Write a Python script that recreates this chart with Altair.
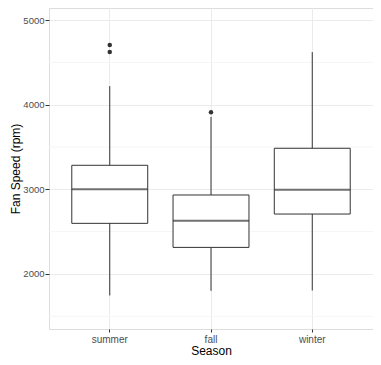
import altair as alt
import pandas as pd

seasons = ["summer", "fall", "winter"]
whisker_lo = [1746, 1801, 1805]
q1 = [2598, 2314, 2708]
median = [3000, 2630, 2996]
q3 = [3284, 2933, 3485]
whisker_hi = [4219, 3856, 4621]

outlier_season = ["summer", "summer", "fall"]
outlier_value = [4704, 4621, 3911]

minor_breaks = [1500, 2500, 3500, 4500]

df = pd.DataFrame({"season": seasons, "lo": whisker_lo, "q1": q1,
                   "med": median, "q3": q3, "hi": whisker_hi})
dout = pd.DataFrame({"season": outlier_season, "value": outlier_value})
dminor = pd.DataFrame({"y": minor_breaks})

FONT = "Liberation Sans"
DARK = "#333333"

xscale = alt.Scale(domain=seasons, paddingInner=0.25, paddingOuter=0.225)
yscale = alt.Scale(domain=[1350, 5142], nice=False, zero=False)

xaxis = alt.Axis(title="Season", labelAngle=0, domain=False, tickSize=3,
                 tickColor="#333333", labelColor="#4D4D4D", labelFontSize=10,
                 titleFontSize=12, titleFontWeight="normal", titleColor="#000000",
                 grid=True, gridColor="#EBEBEB", bandPosition=0.5,
                 labelPadding=2, titlePadding=1)
yaxis = alt.Axis(title="Fan Speed (rpm)", values=[2000, 3000, 4000, 5000],
                 format="d", domain=False, tickSize=4, tickColor="#333333",
                 labelColor="#4D4D4D", labelFontSize=9.5, titleFontSize=12,
                 titleFontWeight="normal", titleColor="#000000", grid=True,
                 gridColor="#EBEBEB", labelPadding=1, titlePadding=0)

minor = alt.Chart(dminor).mark_rule(color="#F5F5F5", strokeWidth=1).encode(
    y=alt.Y("y:Q", scale=yscale, axis=yaxis))

whisk = alt.Chart(df).mark_rule(color=DARK, strokeWidth=1).encode(
    x=alt.X("season:N", scale=xscale, axis=xaxis, sort=seasons),
    y=alt.Y("lo:Q", scale=yscale, axis=yaxis),
    y2="hi:Q")

box = alt.Chart(df).mark_bar(fill="white", stroke=DARK, strokeWidth=1).encode(
    x=alt.X("season:N", sort=seasons),
    y="q1:Q", y2="q3:Q")

med = alt.Chart(df).mark_tick(color=DARK, size=76, thickness=2, orient="horizontal").encode(
    x=alt.X("season:N", sort=seasons),
    y="med:Q")

pts = alt.Chart(dout).mark_circle(color=DARK, size=20, opacity=1).encode(
    x=alt.X("season:N", sort=seasons),
    y="value:Q")

chart = alt.layer(minor, whisk, box, med, pts).properties(
    width=324, height=321,
    autosize=alt.AutoSizeParams(type="none"),
    padding={"left": 41, "top": 0, "right": 0, "bottom": 28},
).configure_view(stroke="#A0A0A0", strokeWidth=1).configure(font=FONT)

chart.save("out.html", embed_options={"renderer": "svg", "actions": False})
